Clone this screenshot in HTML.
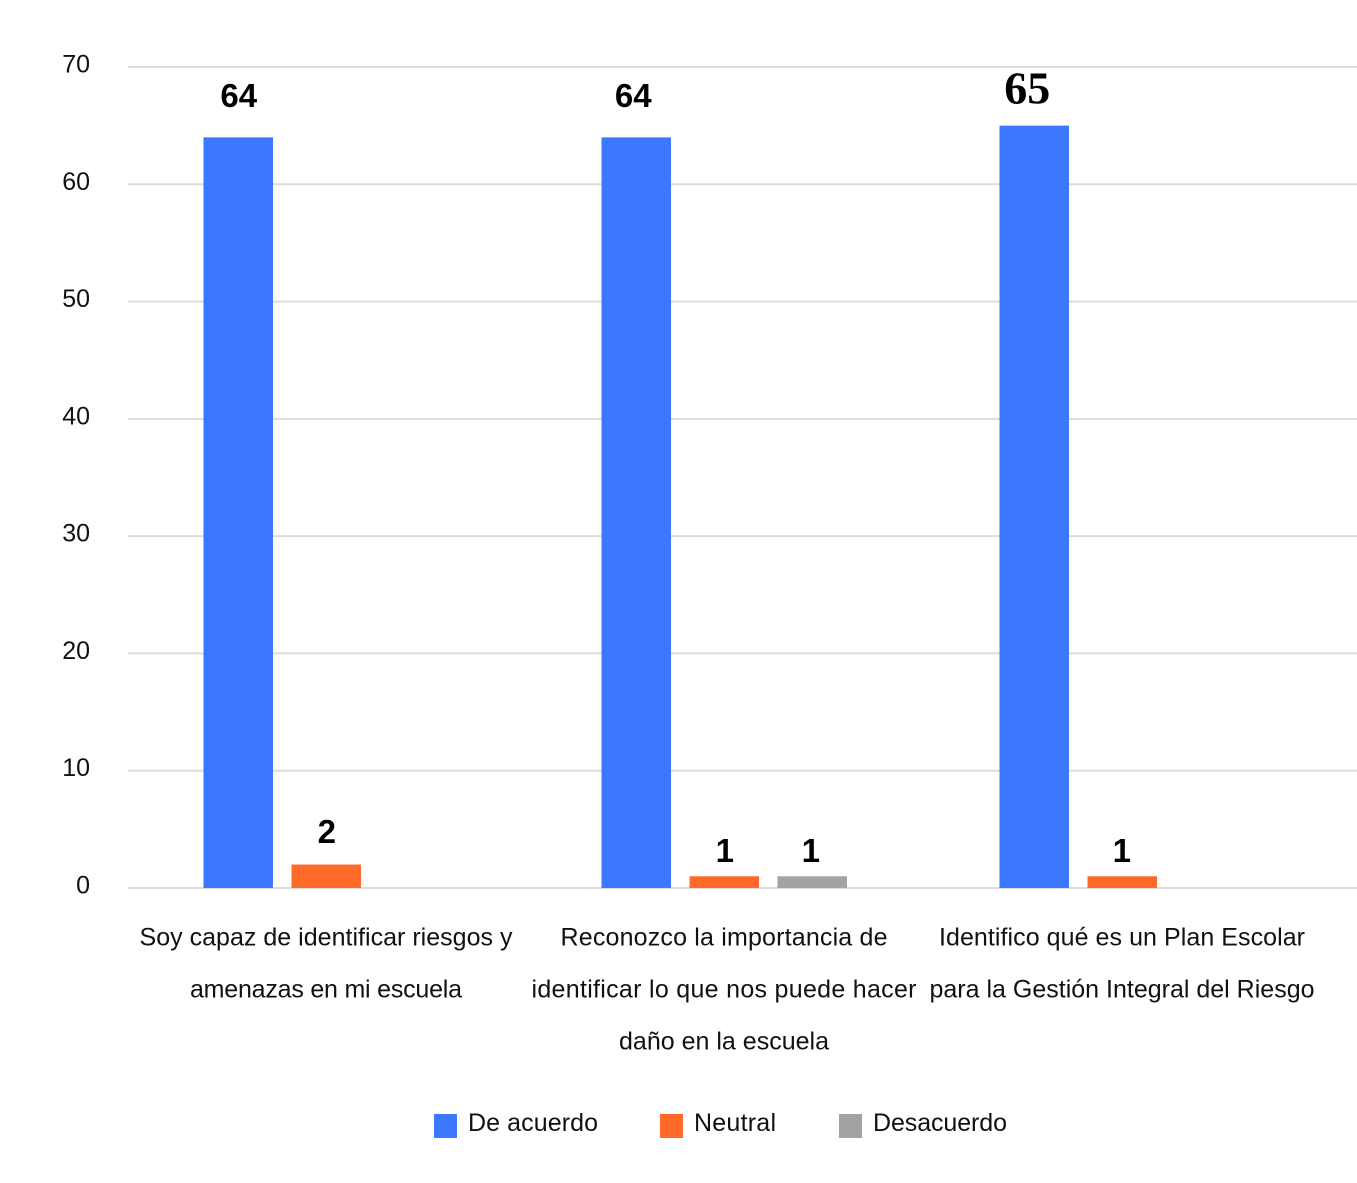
<!DOCTYPE html>
<html lang="es">
<head>
<meta charset="utf-8">
<title>Chart</title>
<style>
html,body{margin:0;padding:0;background:#fff;}
svg{display:block;font-family:"Liberation Sans",sans-serif;}
</style>
</head>
<body>
<svg id="chart" xmlns="http://www.w3.org/2000/svg" width="1357" height="1183" viewBox="0 0 1357 1183">
<rect width="1357" height="1183" fill="#ffffff"/>
</svg>
<script>
const categories = [
  ["Soy capaz de identificar riesgos y", "amenazas en mi escuela"],
  ["Reconozco la importancia de", "identificar lo que nos puede hacer", "daño en la escuela"],
  ["Identifico qué es un Plan Escolar", "para la Gestión Integral del Riesgo"]
];
const seriesNames = ["De acuerdo", "Neutral", "Desacuerdo"];
const deAcuerdo = [64, 64, 65];
const neutral = [2, 1, 1];
const desacuerdo = [0, 1, 0];
const yTicks = [0, 10, 20, 30, 40, 50, 60, 70];

const colors = ["#3b78ff", "#ff6a2b", "#a3a3a3"];
const allSeries = [deAcuerdo, neutral, desacuerdo];
const svg = document.getElementById('chart');
const NS = 'http://www.w3.org/2000/svg';
const y0 = 888, yPerUnit = 821 / 70;
const groupLeft = 127, groupWidth = 398, barWidth = 69.5, barStep = 88, barOffset = 76.5;
// hand-placed offsets of the printed values relative to their bars [series][group]
const labelDx = [[0.5, -3, -7], [0.5, 0.5, -0.5], [0, -1.5, 0]];
const labelDy = [[-10, -10, 0], [-1, 6, 6], [0, 6, 0]];
// rendered widths of the category text lines
const categoryLineWidths = [[373, 272], [327, 385, 210], [366, 385]];
function yScale(v) { return y0 - v * yPerUnit; }
function groupCenter(i) { return groupLeft + groupWidth * (i + 0.5); }
function barX(i, s) { return groupLeft + groupWidth * i + barOffset + barStep * s; }
function make(tag, attrs, text) {
  const el = document.createElementNS(NS, tag);
  for (const k in attrs) el.setAttribute(k, attrs[k]);
  if (text !== undefined) el.textContent = text;
  svg.appendChild(el);
  return el;
}
// gridlines and y ticks
yTicks.forEach(function (t) {
  const line = make('line', {x1: 128, x2: 1357, y1: yScale(t), y2: yScale(t), stroke: '#dcdcdc', 'stroke-width': 2});
  
  
  const label = make('text', {x: 90, y: yScale(t) + 5.5, 'text-anchor': 'end', 'font-size': 25, fill: '#111'}, String(t));
  
  
});
// bars and data labels
allSeries.forEach(function (vals, s) {
  vals.forEach(function (v, i) {
    if (!v) return;
    const bar = make('rect', {x: barX(i, s), y: yScale(v), width: barWidth, height: y0 - yScale(v), fill: colors[s]});
    
    
    const cx = barX(i, s) + barWidth / 2 + labelDx[s][i];
    const isSerif = (s === 0 && i === 2);
    const label = make('text', {
      x: cx,
      y: yScale(v) - (isSerif ? 22 : 20.5) + labelDy[s][i],
      'text-anchor': 'middle',
      'font-size': isSerif ? 46 : 33,
      'font-weight': 'bold',
      'font-family': isSerif ? '"Liberation Serif",serif' : '"Liberation Sans",sans-serif',
      fill: '#000'
    }, String(v));
    
    
  });
});
// category labels
categories.forEach(function (lines, i) {
  lines.forEach(function (txt, j) {
    const label = make('text', {x: groupCenter(i), y: 945.5 + j * 52, 'text-anchor': 'middle', 'font-size': 25, fill: '#111', textLength: categoryLineWidths[i][j], lengthAdjust: 'spacing'}, txt);
    
    
  });
});
// legend
const legendSwatchX = [434, 660, 839];
const legendTextX = [468, 694, 873];
const legendTextWidths = [130, 82, 134];
seriesNames.forEach(function (name, s) {
  const sw = make('rect', {x: legendSwatchX[s], y: 1114, width: 23, height: 24, fill: colors[s]});
  
  
  const label = make('text', {x: legendTextX[s], y: 1131, 'font-size': 25, fill: '#111', textLength: legendTextWidths[s], lengthAdjust: 'spacing'}, name);
  
  
});
</script>
</body>
</html>
